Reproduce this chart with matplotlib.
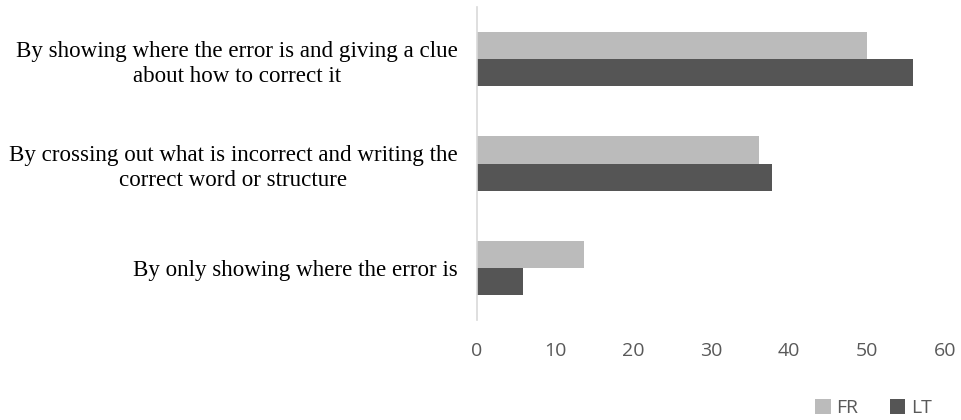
import numpy as np
import matplotlib.pyplot as plt

# data
categorias = [
    "By showing where the error is and giving a clue\nabout how to correct it",
    "By crossing out what is incorrect and writing the\ncorrect word or structure",
    "By only showing where the error is",
]
fr = [50, 36.2, 13.7]
lt = [56, 37.8, 5.9]
series = ["FR", "LT"]
cores = ["#BBBBBB", "#555555"]
ticks_x = [0, 10, 20, 30, 40, 50, 60]

fig = plt.figure(figsize=(9.61, 4.2), dpi=100)
ax = fig.add_axes([0.4964, 0.238, 0.4866, 0.745])

y = np.arange(len(categorias))
h = 0.26
ax.barh(y - h / 2, fr, height=h, color=cores[0], label=series[0])
ax.barh(y + h / 2, lt, height=h, color=cores[1], label=series[1])

ax.set_ylim(len(categorias) - 0.5, -0.5)
ax.set_xlim(0, 60)
ax.set_xticks(ticks_x)
ax.set_yticks(y)
ax.set_yticklabels(categorias, fontfamily="Liberation Serif", fontsize=16.6,
                   multialignment="center", color="black", linespacing=1.25)

for s in ["top", "right", "bottom"]:
    ax.spines[s].set_visible(False)
ax.spines["left"].set_color("#D9D9D9")
ax.spines["left"].set_linewidth(1.2)

ax.tick_params(axis="y", length=0, pad=14)
ax.tick_params(axis="x", length=0, pad=16, labelsize=14, labelcolor="#595959")
for t in ax.get_xticklabels():
    t.set_fontfamily("Open Sans")

leg = fig.legend(loc="lower right", bbox_to_anchor=(0.988, -0.035), ncol=2,
                 frameon=False, handlelength=0.8, handleheight=0.8,
                 columnspacing=1.6, handletextpad=0.3,
                 prop={"family": "Open Sans", "size": 14})
for t in leg.get_texts():
    t.set_color("#595959")

fig.savefig("out.png", dpi=100)
